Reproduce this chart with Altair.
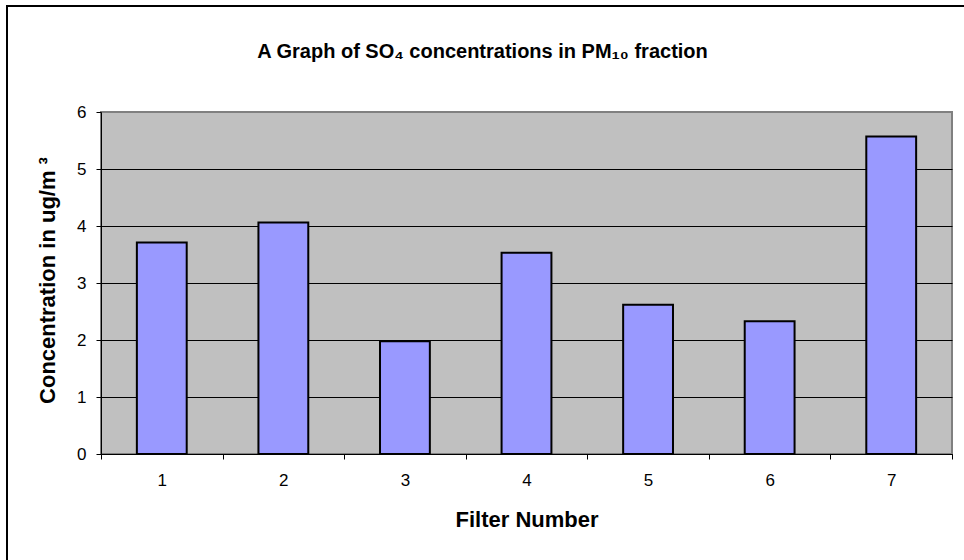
import altair as alt
import pandas as pd

# ---- data ----
filters = ["1", "2", "3", "4", "5", "6", "7"]
so4_conc = [3.71, 4.06, 1.98, 3.53, 2.62, 2.33, 5.57]
y_ticks = [0, 1, 2, 3, 4, 5, 6]

title_text = "A Graph of SO₄ concentrations in PM₁₀ fraction"
x_title = "Filter Number"
y_title = "Concentration in ug/m  ³"

df = pd.DataFrame({"filter": filters, "conc": so4_conc})
one = pd.DataFrame({"k": [0]})

FONT = "Liberation Sans"
PLOT_W, PLOT_H = 851, 342
PAD_L, PAD_T = 101, 112

bars = alt.Chart(df).mark_bar(
    color="#9999FF", stroke="black", strokeWidth=2,
    width=alt.RelativeBandSize(0.41)
).encode(
    x=alt.X(
        "filter:O", sort=filters,
        scale=alt.Scale(paddingInner=0, paddingOuter=0),
        axis=alt.Axis(
            title=x_title, labelAngle=0, tickBand="extent", grid=False,
            domainColor="black", domainWidth=1, tickColor="black", tickSize=5, tickWidth=1,
            labelFont=FONT, labelFontSize=17, labelColor="black", labelPadding=13,
            titleFont=FONT, titleFontSize=22, titleFontWeight="bold", titleColor="black",
            titleX=PLOT_W / 2, titleY=72, titleBaseline="alphabetic", titleAlign="center",
        ),
    ),
    y=alt.Y(
        "conc:Q",
        scale=alt.Scale(domain=[0, 6], nice=False, zero=True),
        axis=alt.Axis(
            values=y_ticks, title=y_title, format="d",
            domainColor="black", domainWidth=1, tickColor="black", tickSize=5, tickWidth=1,
            gridColor={"condition": {"test": "datum.value === 6", "value": "#808080"}, "value": "black"},
            gridWidth=1, gridOpacity=1,
            labelFont=FONT, labelFontSize=17, labelColor="black", labelPadding=10,
            titleFont=FONT, titleFontSize=22, titleFontWeight="bold", titleColor="black",
            titleAngle=270, titleX=-54, titleY=168, titleAlign="center", titleBaseline="middle",
        ),
    ),
)

frame_left = alt.Chart(one).mark_rule(color="black", strokeWidth=2).encode(
    x=alt.value(-94), y=alt.value(-106), y2=alt.value(460)
)
frame_top = alt.Chart(one).mark_rule(color="black", strokeWidth=2).encode(
    x=alt.value(-95), x2=alt.value(870), y=alt.value(-106)
)

chart = alt.layer(frame_left, frame_top, bars).properties(
    width=PLOT_W, height=PLOT_H,
    title=alt.TitleParams(
        text=title_text, font=FONT, fontSize=20, fontWeight="bold", color="black",
        anchor="middle", frame="group", dx=-44, offset=0, dy=73, baseline="alphabetic",
    ),
    autosize=alt.AutoSizeParams(type="none"),
    padding={"left": PAD_L, "top": PAD_T, "right": 964 - PAD_L - PLOT_W, "bottom": 560 - PAD_T - PLOT_H},
    background="white",
).configure_view(
    fill="#C0C0C0", stroke="#808080", strokeWidth=2
)

chart.save("out.html", embed_options={"renderer": "svg", "actions": False})
